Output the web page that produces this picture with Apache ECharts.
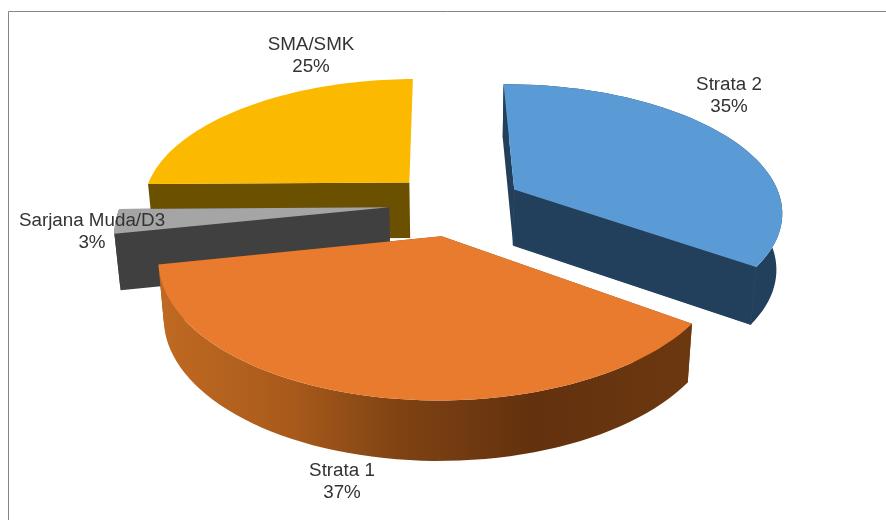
<!DOCTYPE html>
<html>
<head>
<meta charset="utf-8">
<title>Pendidikan</title>
<style>
  html, body { margin: 0; padding: 0; background: #fff; }
  #main { width: 886px; height: 520px; }
</style>
</head>
<body>
<div id="main"></div>
<script src="https://cdn.jsdelivr.net/npm/echarts@6/dist/echarts.min.js"></script>
<script type="text/javascript">
// clockwise from 12 o'clock
var categories = ['Strata 2', 'Strata 1', 'Sarjana Muda/D3', 'SMA/SMK'];
var percents = [35, 37, 3, 25];

var topColors = ['#5b9bd5', '#e97b2e', '#a5a5a5', '#fbb900'];
var sideColors = ['#223f5c', '#7f4313', '#404040', '#6b5000'];
var drawOrder = [3, 2, 0, 1]; // back to front
var labelPos = [[729, 96], [342, 481.5], [92, 232], [311, 56]];

// fake 3d camera: disc plane -> screen
var OX = 456, OY = 204, RX = 268, RY = 126.4, PERSP = 0.16, EXPLODE = 0.25;
var ROTATE = -0.7 * Math.PI / 180;
var LOWER_SHRINK = 0.982; // bottom face sits further from the camera

function project(u, v, lowered) {
    var w = 1 + PERSP * v;
    var x = RX * u / w;
    var y = OY - RY * v / w;
    if (lowered) {
        x *= LOWER_SHRINK;
        y += 38 + 18 / w;
    }
    return [OX + x, y];
}

// angles from the values
var total = percents.reduce(function (a, b) { return a + b; }, 0);
var angles = [];
var acc = 0;
percents.forEach(function (p) {
    angles.push([ROTATE + acc / total * Math.PI * 2, ROTATE + (acc + p) / total * Math.PI * 2]);
    acc += p;
});

function rimPoints(idx, lowered) {
    var a0 = angles[idx][0], a1 = angles[idx][1], mid = (a0 + a1) / 2;
    var cu = Math.sin(mid) * EXPLODE, cv = Math.cos(mid) * EXPLODE;
    var pts = [];
    var n = 60;
    for (var i = 0; i <= n; i++) {
        var t = a0 + (a1 - a0) * i / n;
        pts.push(project(cu + Math.sin(t), cv + Math.cos(t), lowered));
    }
    return { pts: pts, apex: project(cu, cv, lowered) };
}

function poly(points, fill, z, edge) {
    return {
        type: 'polygon',
        z2: z,
        shape: { points: points },
        style: { fill: fill, stroke: edge || null, lineWidth: edge ? 1 : 0 }
    };
}

var orangeRim = new echarts.graphic.LinearGradient(0, 0, 1, 0, [
    { offset: 0, color: '#c06a22' },
    { offset: 0.25, color: '#a85a1b' },
    { offset: 0.45, color: '#7f4313' },
    { offset: 0.7, color: '#63310e' },
    { offset: 1, color: '#6b3810' }
]);

function renderSlice(params) {
    var idx = drawOrder[params.dataIndex];
    var up = rimPoints(idx, false), low = rimPoints(idx, true);
    var base = params.dataIndex * 10;
    var side = sideColors[idx];
    var last = up.pts.length - 1;
    var children = [
        poly([up.apex, up.pts[0], low.pts[0], low.apex], side, base),
        poly([up.apex].concat(up.pts), topColors[idx], base + 3)
    ];
    // yellow's closing wall and rim do not show in the original
    if (idx !== 3) {
        // blue only: stroke hides the seam between wall and rim
        children.push(poly([up.apex, up.pts[last], low.pts[last], low.apex], side, base + 1, idx === 0 ? side : null));
        children.push(poly(up.pts.concat(low.pts.slice().reverse()), idx === 1 ? orangeRim : side, base + 2));
    }
    return { type: 'group', children: children };
}

function renderLabel(params) {
    var idx = params.dataIndex;
    return {
        type: 'text',
        z2: 100,
        x: labelPos[idx][0],
        y: labelPos[idx][1],
        style: {
            text: categories[idx] + '\n' + percents[idx] + '%',
            fill: '#333',
            font: '18.8px "Liberation Sans", Arial, sans-serif',
            lineHeight: 22,
            align: 'center',
            verticalAlign: 'middle'
        }
    };
}

var myChart = echarts.init(document.getElementById('main'), null, { renderer: 'canvas' });
var option = {
    backgroundColor: '#fff',
    animation: false,
    graphic: [{
        type: 'rect',
        silent: true,
        shape: { x: 8.5, y: 11.5, width: 900, height: 600 },
        style: { fill: 'transparent', stroke: '#868686', lineWidth: 1 }
    }],
    series: [
        { type: 'custom', coordinateSystem: 'none', silent: true, renderItem: renderSlice, data: drawOrder },
        { type: 'custom', coordinateSystem: 'none', silent: true, z: 5, renderItem: renderLabel, data: percents }
    ]
};
myChart.setOption(option);
</script>
</body>
</html>
